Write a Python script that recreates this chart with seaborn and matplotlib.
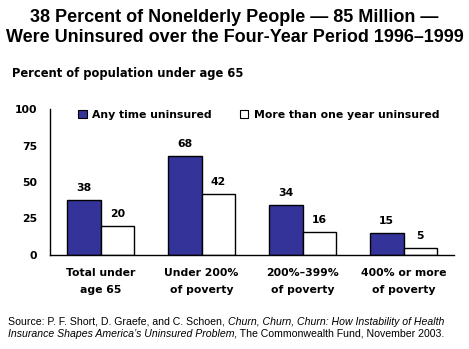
import matplotlib
matplotlib.use("Agg")
import matplotlib.pyplot as plt
import seaborn as sns
import pandas as pd
from matplotlib.patches import Patch

categories = ["Total under\nage 65", "Under 200%\nof poverty", "200%\u2013399%\nof poverty", "400% or more\nof poverty"]
series_names = ["Any time uninsured", "More than one year uninsured"]
any_time = [38, 68, 34, 15]
more_than_year = [20, 42, 16, 5]
y_ticks = [0, 25, 50, 75, 100]

sns.set_theme(style="white")
plt.rcParams["font.family"] = ["DejaVu Sans"]
for key in ["text.color", "axes.labelcolor", "xtick.color", "ytick.color"]:
    plt.rcParams[key] = "black"

df = pd.DataFrame({
    "category": categories * 2,
    "series": [series_names[0]] * 4 + [series_names[1]] * 4,
    "value": any_time + more_than_year,
})

W, H = 469, 349
fig = plt.figure(figsize=(W / 100, H / 100), dpi=100)
fig.patch.set_facecolor("white")
ax = fig.add_axes([50 / W, (H - 255) / H, (454 - 50) / W, (255 - 109) / H])

colors = ["#333399", "#ffffff"]
sns.barplot(data=df, x="category", y="value", hue="series", order=categories,
            hue_order=series_names, palette=colors, width=0.67, gap=0,
            edgecolor="black", linewidth=1.0, saturation=1, legend=False, ax=ax)

ax.set_xlim(-0.5, 3.5)
ax.set_ylim(0, 100)
ax.set_yticks(y_ticks)
ax.set_yticklabels([str(t) for t in y_ticks], fontsize=7.8, fontweight="bold")
ax.set_xticks(range(4))
ax.set_xticklabels(categories, fontsize=7.8, fontweight="bold", linespacing=1.9)
ax.set_xticks([-0.5, 0.5, 1.5, 2.5, 3.5], minor=True)
ax.tick_params(axis="x", which="major", length=0, pad=9)
ax.tick_params(axis="x", which="minor", length=5, width=1, color="black", direction="out")
ax.tick_params(axis="y", which="major", length=5, width=1, color="black", direction="out", pad=4)
ax.set_xlabel("")
ax.set_ylabel("")
for s in ["top", "right"]:
    ax.spines[s].set_visible(False)
for s in ["left", "bottom"]:
    ax.spines[s].set_color("black")
    ax.spines[s].set_linewidth(1)

# value labels above each bar
for container in ax.containers:
    ax.bar_label(container, fmt="%d", padding=5, fontsize=7.8, fontweight="bold")

# legend across the top of the plot area
handles = [Patch(facecolor=c, edgecolor="black", linewidth=0.8) for c in colors]
ax.legend(handles, series_names, loc="upper left", bbox_to_anchor=(0.045, 1.06),
          ncol=2, frameon=False, prop={"weight": "bold", "size": 7.8},
          handlelength=0.8, handleheight=0.8, handletextpad=0.5, columnspacing=2.6)

title_kw = dict(ha="center", va="center", fontsize=13, fontweight="bold", family="Liberation Sans")
fig.text(0.5, 1 - 17 / H, "38 Percent of Nonelderly People \u2014 85 Million \u2014", **title_kw)
fig.text(0.5, 1 - 37 / H, "Were Uninsured over the Four-Year Period 1996\u20131999", **title_kw)
fig.text(12 / W, 1 - 73 / H, "Percent of population under age 65",
         ha="left", va="center", fontsize=8.3, fontweight="bold")

# source note, mixing upright and italic runs
src_kw = dict(fontsize=7.6, family="Liberation Sans", ha="left", va="baseline")
y1, y2 = 1 - 325 / H, 1 - 337 / H
t1 = fig.text(8 / W, y1, "Source: P. F. Short, D. Graefe, and C. Schoen, ", **src_kw)
fig.canvas.draw()
fig.text(t1.get_window_extent().x1 / W, y1,
         "Churn, Churn, Churn: How Instability of Health", style="italic", **src_kw)
t3 = fig.text(8 / W, y2, "Insurance Shapes America\u2019s Uninsured Problem,",
              style="italic", **src_kw)
fig.canvas.draw()
fig.text(t3.get_window_extent().x1 / W, y2,
         " The Commonwealth Fund, November 2003.", **src_kw)

fig.savefig("out.png", dpi=100, facecolor="white")
